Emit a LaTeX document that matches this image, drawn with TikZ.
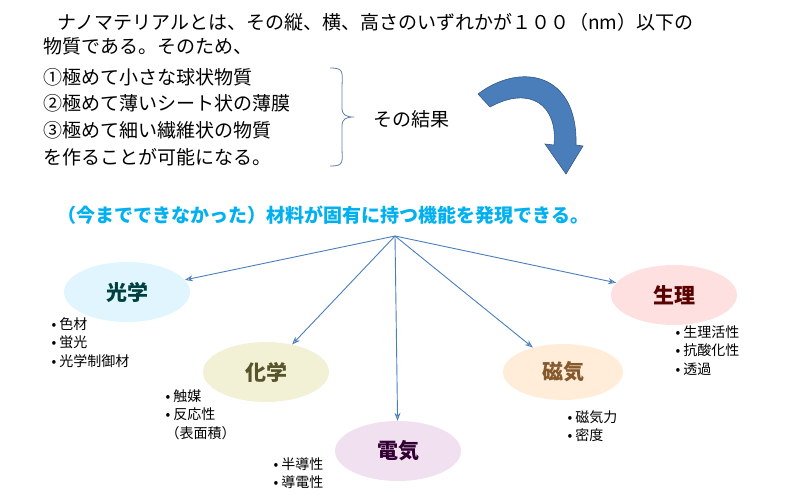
\documentclass[tikz,border=0pt]{standalone}
\usepackage{fontspec}
\setmainfont{Noto Sans CJK JP}
\usepackage{tikz}
\usetikzlibrary{arrows.meta, positioning, shapes.geometric}
\definecolor{hubblue}{HTML}{4A7EBB}
\definecolor{titleblue}{HTML}{00B0F0}
\tikzset{
  topline/.style={anchor=west, font=\fontsize{19}{21}\selectfont},
  field/.style={ellipse, minimum width=126pt, minimum height=60pt, inner sep=0pt,
    font=\fontsize{21}{23}\selectfont\bfseries},
  items/.style={anchor=north west, align=left, font=\fontsize{14}{18.5}\selectfont},
  link/.style={-{Stealth[length=8pt,width=6pt,open]}, draw=hubblue, line width=0.9pt}
}
\begin{document}
\begin{tikzpicture}[x=1pt,y=-1pt]
  \useasboundingbox (0,0) rectangle (800,500);

  % introductory text
  \node[topline] (l1) at (54,22) {ナノマテリアルとは、その縦、横、高さのいずれかが１００（nm）以下の};
  \node[topline] (l2) at (40,46) {物質である。そのため、};
  \node[topline] (l3) at (40,77) {①極めて小さな球状物質};
  \node[topline] (l4) at (40,103) {②極めて薄いシート状の薄膜};
  \node[topline] (l5) at (40,130) {③極めて細い繊維状の物質};
  \node[topline] (l6) at (40,157) {を作ることが可能になる。};
  \draw[hubblue!60!gray, line width=0.8pt] (330,68) .. controls (345,68) and (342,72) .. (342,90)
    -- (342,108) .. controls (342,115) and (346,117) .. (354,117)
    .. controls (346,117) and (342,119) .. (342,126) -- (342,146)
    .. controls (342,162) and (345,166) .. (330,166);
  \node[topline] (result) at (370,119) {その結果};

  % curved arrow
  \fill[hubblue, draw=hubblue!70!black, line width=0.6pt]
    (478,94) .. controls (520,62) and (578,72) .. (576,145)
    -- (583,146) -- (566,174) -- (545,144) -- (554,145)
    .. controls (558,105) and (530,85) .. (490,107) -- cycle;

  % headline
  \node[anchor=west, text=titleblue, font=\fontsize{19}{21}\selectfont\bfseries] (head) at (54,215)
    {（今までできなかった）材料が固有に持つ機能を発現できる。};
  \coordinate (hub) at (395,236);

  % fields
  \node[field, fill=cyan!12, text=teal!50!black] (optics) at (127,292) {光学};
  \node[field, fill=olive!12, text=olive!50!black] (chem) at (266,372) {化学};
  \node[field, fill=violet!12, text=violet!40!black] (elec) at (398,451) {電気};
  \node[field, fill=orange!15, text=brown!70!black, minimum width=120pt, minimum height=56pt] (magn) at (563,372) {磁気};
  \node[field, fill=red!12, text=red!35!black] (phys) at (674,295) {生理};

  \foreach \f in {optics, chem, elec, magn, phys}
    \draw[link] (hub) -- (\f);

  % property lists
  \node[items] (opticsL) at (48,314) {• 色材\\• 蛍光\\• 光学制御材};
  \node[items] (chemL) at (162,386) {• 触媒\\• 反応性\\（表面積）};
  \node[items] (elecL) at (270,454) {• 半導性\\• 導電性};
  \node[items] (magnL) at (564,407) {• 磁気力\\• 密度};
  \node[items] (physL) at (672,322) {• 生理活性\\• 抗酸化性\\• 透過};
\end{tikzpicture}
\end{document}
